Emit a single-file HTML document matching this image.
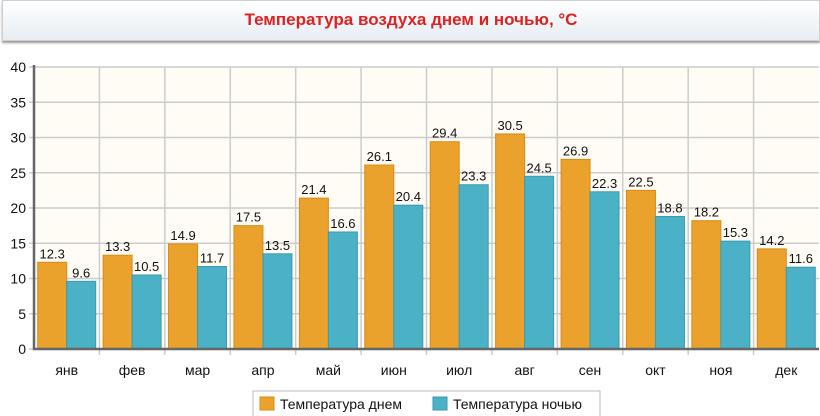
<!DOCTYPE html>
<html><head><meta charset="utf-8"><style>
body{margin:0;width:820px;height:416px;background:#fff;overflow:hidden;font-family:"Liberation Sans","DejaVu Sans",sans-serif}
#title{position:absolute;left:2px;top:0;width:816px;height:39px;background:linear-gradient(#fff,#e6edf3);border:1px solid #d0d0d0;box-shadow:0 2px 2px #999;text-align:center;line-height:38px;color:#d22;font-weight:bold;font-size:17px}
</style></head><body>
<div id="title">Температура воздуха днем и ночью, °C</div>
<svg id="chart" width="820" height="416" style="position:absolute;left:0;top:0"></svg>
<script>
const months=["янв","фев","мар","апр","май","июн","июл","авг","сен","окт","ноя","дек"];
const dayTemps=[12.3,13.3,14.9,17.5,21.4,26.1,29.4,30.5,26.9,22.5,18.2,14.2];
const nightTemps=[9.6,10.5,11.7,13.5,16.6,20.4,23.3,24.5,22.3,18.8,15.3,11.6];
const yTicks=[0,5,10,15,20,25,30,35,40];
const NS="http://www.w3.org/2000/svg";
const svg=document.getElementById('chart');
const L=34,R=819,T=67,B=349,yMax=40;
const cw=(R-L)/months.length;
const y=v=>B-(v/yMax)*(B-T);
const x=i=>L+i*cw;
function mk(tag,a,p){const e=document.createElementNS(NS,tag);for(const k in a)e.setAttribute(k,a[k]);(p||svg).appendChild(e);return e;}
const bg=mk('rect',{x:L,y:T,width:R-L,height:B-T,fill:'#fffcf5'});


yTicks.forEach(t=>{
  const g=mk('line',{x1:L-5,x2:R,y1:y(t),y2:y(t),stroke:'#ccc','stroke-width':1.5});
  
  
  const tx=mk('text',{x:L-8,y:y(t)+5,'text-anchor':'end','font-size':14,fill:'#111'});
  tx.textContent=t;
  
  
});
months.forEach((m,i)=>{
  if(i>0){const v=mk('line',{x1:x(i),x2:x(i),y1:T,y2:B+6,stroke:'#ccc','stroke-width':1.5});
  
  }
  const bw=29,x0=x(i)+(cw-2*bw)/2;
  const b1=mk('rect',{x:x0,y:y(dayTemps[i]),width:bw,height:B-y(dayTemps[i]),fill:'#eaa22c',stroke:'#d88a1a','stroke-width':1});
  
  
  const b2=mk('rect',{x:x0+bw,y:y(nightTemps[i]),width:bw,height:B-y(nightTemps[i]),fill:'#4bb1c6',stroke:'#3a9ab0','stroke-width':1});
  
  
  const l1=mk('text',{x:x0+bw/2,y:y(dayTemps[i])-4,'text-anchor':'middle','font-size':13,fill:'#111'});
  l1.textContent=dayTemps[i];
  
  
  const l2=mk('text',{x:x0+bw*1.5,y:y(nightTemps[i])-4,'text-anchor':'middle','font-size':13,fill:'#111'});
  l2.textContent=nightTemps[i];
  
  
  const xl=mk('text',{x:x(i)+cw/2,y:B+26,'text-anchor':'middle','font-size':14,fill:'#111'});
  xl.textContent=m;
  
  
});
const ax=mk('path',{d:`M${L},${T-2}V${B}H${R}`,fill:'none',stroke:'#666','stroke-width':2.5});


const lg=mk('g',{});


mk('rect',{x:253,y:391,width:347,height:26,fill:'#fff',stroke:'#bbb'},lg);
[[260,'#eaa22c','#d88a1a','Температура днем','legend-entry-day'],[433,'#4bb1c6','#3a9ab0','Температура ночью','legend-entry-night']].forEach(d=>{
  const g=mk('g',{},lg);
  
  
  mk('rect',{x:d[0],y:397,width:14,height:13,fill:d[1],stroke:d[2]},g);
  const t=mk('text',{x:d[0]+20,y:409,'font-size':14,fill:'#111'},g);
  t.textContent=d[3];
});
</script>
</body></html>
